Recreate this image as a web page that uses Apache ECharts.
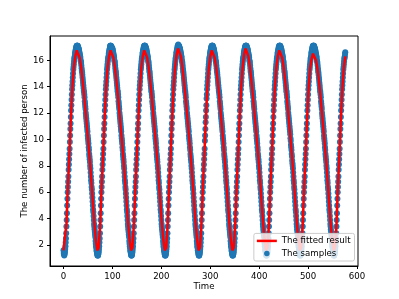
<!DOCTYPE html>
<html>
<head>
<meta charset="utf-8">
<script src="https://cdn.jsdelivr.net/npm/echarts@6/dist/echarts.min.js"></script>
<style>
html,body{margin:0;padding:0;background:#fff;}
#chart{width:399px;height:299px;}
</style>
</head>
<body>
<div id="chart"></div>
<script>
// Sample times start at 0 with a step of 0.5
const sampleStep = 0.5;
const samples = [
1.6,1.4,
// cycle 1
1.3,1.2,1.3,1.4,1.5,1.7,1.9,2.2,2.5,2.9,3.4,3.9,
4.4,5.0,5.5,6.0,6.4,6.8,7.2,7.7,8.1,8.5,8.9,9.3,
9.8,10.3,10.8,11.2,11.7,12.2,12.6,13.0,13.4,13.8,14.1,14.4,
14.7,15.0,15.3,15.5,15.7,15.9,16.1,16.2,16.3,16.5,16.6,16.7,
16.8,16.9,17.0,17.0,17.1,17.1,17.1,17.1,17.1,17.0,17.0,16.9,
16.9,16.8,16.7,16.6,16.5,16.4,16.3,16.2,16.0,15.9,15.8,15.6,
15.4,15.2,15.1,14.9,14.7,14.5,14.3,14.1,13.9,13.7,13.6,13.4,
13.2,12.9,12.7,12.5,12.3,12.0,11.8,11.6,11.4,11.2,11.0,10.8,
10.6,10.3,10.1,9.9,9.7,9.4,9.2,8.9,8.7,8.5,8.3,8.0,
7.8,7.5,7.2,6.9,6.7,6.4,6.2,5.9,5.6,5.3,5.0,4.7,
4.5,4.2,3.9,3.6,3.4,3.2,3.0,2.8,2.6,2.3,2.1,1.9,
1.8,1.6,1.5,1.4,1.3,1.2,
// cycle 2
1.2,1.2,1.3,1.4,1.5,1.7,1.9,2.2,2.5,2.9,3.4,3.9,
4.4,5.0,5.5,6.0,6.4,6.8,7.2,7.7,8.1,8.5,8.9,9.3,
9.8,10.3,10.8,11.2,11.7,12.2,12.6,13.0,13.4,13.8,14.1,14.4,
14.7,15.0,15.3,15.5,15.7,15.9,16.1,16.2,16.3,16.5,16.6,16.7,
16.8,16.9,17.0,17.1,17.1,17.1,17.1,17.0,17.0,17.0,16.9,16.9,
16.9,16.8,16.7,16.6,16.5,16.4,16.3,16.2,16.0,15.9,15.8,15.6,
15.4,15.2,15.1,14.9,14.7,14.5,14.3,14.1,13.9,13.7,13.6,13.4,
13.2,12.9,12.7,12.5,12.3,12.0,11.8,11.6,11.4,11.2,11.0,10.8,
10.6,10.3,10.1,9.9,9.7,9.4,9.2,8.9,8.7,8.5,8.3,8.0,
7.8,7.5,7.2,6.9,6.7,6.4,6.2,5.9,5.6,5.3,5.0,4.7,
4.5,4.2,3.9,3.6,3.4,3.2,3.0,2.8,2.6,2.3,2.1,1.9,
1.8,1.6,1.5,1.4,1.3,1.2,
// cycle 3
1.2,1.2,1.3,1.4,1.5,1.7,1.9,2.2,2.5,2.9,3.4,3.9,
4.4,5.0,5.5,6.0,6.4,6.8,7.2,7.7,8.1,8.5,8.9,9.3,
9.8,10.3,10.8,11.2,11.7,12.2,12.6,13.0,13.4,13.8,14.1,14.4,
14.7,15.0,15.3,15.5,15.7,15.9,16.1,16.2,16.3,16.5,16.6,16.7,
16.8,16.9,17.0,17.0,17.1,17.1,17.1,17.1,17.1,17.0,17.0,16.9,
16.9,16.8,16.7,16.6,16.5,16.4,16.3,16.2,16.0,15.9,15.8,15.6,
15.4,15.2,15.1,14.9,14.7,14.5,14.3,14.1,13.9,13.7,13.6,13.4,
13.2,12.9,12.7,12.5,12.3,12.0,11.8,11.6,11.4,11.2,11.0,10.8,
10.6,10.3,10.1,9.9,9.7,9.4,9.2,8.9,8.7,8.5,8.3,8.0,
7.8,7.5,7.2,6.9,6.7,6.4,6.2,5.9,5.6,5.3,5.0,4.7,
4.5,4.2,3.9,3.6,3.4,3.2,3.0,2.8,2.6,2.3,2.1,1.9,
1.8,1.6,1.5,1.4,1.3,1.2,
// cycle 4
1.2,1.2,1.3,1.4,1.5,1.7,1.9,2.2,2.5,2.9,3.4,3.9,
4.4,5.0,5.5,6.0,6.4,6.8,7.2,7.7,8.1,8.5,8.9,9.3,
9.8,10.3,10.8,11.2,11.7,12.2,12.6,13.0,13.4,13.8,14.1,14.4,
14.7,15.0,15.3,15.5,15.7,15.9,16.1,16.2,16.3,16.5,16.6,16.7,
16.8,16.9,17.0,17.1,17.1,17.2,17.1,17.1,17.1,17.0,17.0,16.9,
16.9,16.8,16.7,16.6,16.5,16.4,16.3,16.2,16.0,15.9,15.8,15.6,
15.4,15.2,15.1,14.9,14.7,14.5,14.3,14.1,13.9,13.7,13.6,13.4,
13.2,12.9,12.7,12.5,12.3,12.0,11.8,11.6,11.4,11.2,11.0,10.8,
10.6,10.3,10.1,9.9,9.7,9.4,9.2,8.9,8.7,8.5,8.3,8.0,
7.8,7.5,7.2,6.9,6.7,6.4,6.2,5.9,5.6,5.3,5.0,4.7,
4.5,4.2,3.9,3.6,3.4,3.2,3.0,2.8,2.6,2.3,2.1,1.9,
1.8,1.6,1.5,1.4,1.3,1.2,
// cycle 5
1.2,1.2,1.3,1.4,1.5,1.7,1.9,2.2,2.5,2.9,3.4,3.9,
4.4,5.0,5.5,6.0,6.4,6.8,7.2,7.7,8.1,8.5,8.9,9.3,
9.9,10.3,10.8,11.3,11.7,12.2,12.6,13.1,13.4,13.8,14.1,14.4,
14.7,15.0,15.3,15.5,15.7,15.9,16.1,16.2,16.3,16.5,16.6,16.7,
16.8,16.9,17.0,17.0,17.1,17.1,17.1,17.1,17.1,17.0,17.0,16.9,
16.9,16.8,16.7,16.6,16.5,16.4,16.3,16.2,16.0,15.9,15.8,15.6,
15.4,15.2,15.1,14.9,14.7,14.5,14.3,14.1,13.9,13.7,13.6,13.4,
13.2,12.9,12.7,12.5,12.3,12.0,11.8,11.6,11.4,11.2,11.0,10.8,
10.6,10.3,10.1,9.9,9.7,9.4,9.2,8.9,8.7,8.5,8.3,8.0,
7.8,7.5,7.2,6.9,6.7,6.4,6.2,5.9,5.6,5.3,5.0,4.7,
4.5,4.2,3.9,3.6,3.4,3.2,3.0,2.8,2.6,2.3,2.1,1.9,
1.8,1.6,1.5,1.4,1.3,1.2,
// cycle 6
1.2,1.2,1.3,1.4,1.5,1.7,1.9,2.2,2.5,2.9,3.4,3.9,
4.4,5.0,5.5,6.0,6.4,6.8,7.2,7.7,8.1,8.5,8.9,9.3,
9.8,10.3,10.8,11.2,11.7,12.2,12.6,13.0,13.4,13.8,14.1,14.4,
14.7,15.0,15.3,15.5,15.7,15.9,16.1,16.2,16.3,16.5,16.6,16.7,
16.8,16.9,17.0,17.0,17.1,17.1,17.1,17.1,17.1,17.0,17.0,16.9,
16.9,16.8,16.7,16.6,16.5,16.4,16.3,16.2,16.0,15.9,15.8,15.6,
15.4,15.2,15.1,14.9,14.7,14.5,14.3,14.1,13.9,13.7,13.6,13.4,
13.2,12.9,12.7,12.5,12.3,12.0,11.8,11.6,11.4,11.2,11.0,10.8,
10.6,10.3,10.1,9.9,9.7,9.4,9.2,8.9,8.7,8.5,8.3,8.0,
7.8,7.5,7.2,6.9,6.7,6.4,6.2,5.9,5.6,5.3,5.0,4.7,
4.5,4.2,3.9,3.6,3.4,3.2,3.0,2.8,2.6,2.3,2.1,1.9,
1.8,1.6,1.5,1.4,1.3,1.2,
// cycle 7
1.2,1.2,1.3,1.4,1.5,1.7,1.9,2.2,2.5,2.9,3.4,3.9,
4.4,5.0,5.5,6.0,6.4,6.8,7.2,7.7,8.1,8.5,8.9,9.3,
9.8,10.3,10.8,11.2,11.7,12.2,12.6,13.0,13.4,13.8,14.1,14.4,
14.7,15.0,15.3,15.5,15.7,15.9,16.1,16.2,16.3,16.5,16.6,16.7,
16.8,16.9,17.0,17.0,17.1,17.1,17.1,17.1,17.1,17.0,17.0,16.9,
16.9,16.8,16.7,16.6,16.5,16.4,16.3,16.2,16.0,15.9,15.8,15.6,
15.4,15.2,15.1,14.9,14.7,14.5,14.3,14.1,13.9,13.7,13.6,13.4,
13.2,12.9,12.7,12.5,12.3,12.0,11.8,11.6,11.4,11.2,11.0,10.8,
10.6,10.4,10.1,9.9,9.6,9.4,9.2,8.9,8.7,8.4,8.2,8.0,
7.8,7.5,7.2,6.9,6.7,6.4,6.2,5.9,5.6,5.3,5.0,4.7,
4.5,4.2,3.9,3.6,3.4,3.2,3.0,2.8,2.6,2.3,2.1,1.9,
1.8,1.6,1.5,1.4,1.3,1.2,
// cycle 8
1.2,1.2,1.3,1.4,1.5,1.7,1.9,2.2,2.5,2.9,3.4,3.9,
4.4,5.0,5.5,6.0,6.4,6.8,7.2,7.7,8.1,8.5,8.9,9.3,
9.8,10.3,10.8,11.2,11.7,12.2,12.6,13.0,13.4,13.8,14.1,14.4,
14.7,15.0,15.3,15.5,15.7,15.9,16.1,16.2,16.3,16.5,16.6,16.7,
16.8,16.9,17.0,17.0,17.1,17.1,17.1,17.1,17.1,17.0,17.0,16.9,
16.9,16.8,16.7,16.6,16.5,16.4,16.3,16.2,16.0,15.9,15.8,15.6,
15.4,15.2,15.1,14.9,14.7,14.5,14.3,14.1,13.9,13.7,13.6,13.4,
13.2,12.9,12.7,12.5,12.3,12.0,11.8,11.6,11.4,11.2,11.0,10.8,
10.6,10.3,10.1,9.9,9.7,9.4,9.2,8.9,8.7,8.5,8.3,8.0,
7.8,7.5,7.2,6.9,6.7,6.4,6.2,5.9,5.6,5.3,5.0,4.7,
4.5,4.2,3.9,3.6,3.4,3.2,3.0,2.8,2.6,2.3,2.1,1.9,
1.8,1.6,1.5,1.4,1.3,1.2,
// final rise
1.2,1.2,1.3,1.4,1.5,1.7,1.9,2.2,2.5,2.9,3.4,3.9,
4.4,5.0,5.5,6.0,6.4,6.8,7.2,7.7,8.1,8.5,8.9,9.3,
9.8,10.3,10.8,11.2,11.7,12.2,12.6,13.0,13.4,13.8,14.1,14.4,
14.7,15.0,15.3,15.5,15.7,15.9,16.1,16.2,16.3,16.5,16.6
];

// Fitted curve: times start at 0 with a step of 3
const fitStep = 3;
const fitted = [
1.6,
1.5,3.6,6.5,8.9,11.6,13.9,15.45,16.3,16.75,16.7,16.2,15.5,14.5,13.4,12.15,10.9,9.65,8.3,6.8,5.2,3.65,2.4,1.6,
1.8,3.6,6.5,8.9,11.6,13.9,15.45,16.3,16.75,16.7,16.2,15.5,14.5,13.4,12.15,10.9,9.65,8.3,6.8,5.2,3.65,2.4,1.6,
1.8,3.6,6.5,8.9,11.6,13.9,15.45,16.3,16.75,16.7,16.2,15.5,14.5,13.4,12.15,10.9,9.65,8.3,6.8,5.2,3.65,2.4,1.6,
1.8,3.6,6.5,8.9,11.6,13.9,15.45,16.4,16.9,16.85,16.3,15.5,14.5,13.4,12.15,10.9,9.65,8.3,6.8,5.2,3.65,2.4,1.6,
1.8,3.6,6.5,8.9,11.6,13.9,15.45,16.3,16.75,16.7,16.2,15.5,14.5,13.4,12.15,10.9,9.65,8.3,6.8,5.2,3.65,2.4,1.6,
1.8,3.6,6.5,8.9,11.6,13.9,15.45,16.4,16.9,16.85,16.3,15.5,14.5,13.4,12.15,10.9,9.65,8.3,6.8,5.2,3.65,2.4,1.6,
1.8,3.6,6.5,8.9,11.6,13.9,15.45,16.3,16.75,16.7,16.2,15.5,14.5,13.4,12.15,10.9,9.65,8.3,6.8,5.2,3.65,2.4,1.6,
1.8,3.6,6.5,8.9,11.6,13.9,15.4,16.1,16.5,16.45,16.0,15.4,14.5,13.4,12.15,10.9,9.65,8.3,6.8,5.2,3.65,2.4,1.6,
1.8,3.6,6.5,8.9,11.6,13.9,15.45,16.3
];

const xTicks = [0, 100, 200, 300, 400, 500, 600];
const yTicks = [2, 4, 6, 8, 10, 12, 14, 16];
const seriesNames = ['The fitted result', 'The samples'];
const xName = 'Time';
const yName = 'The number of infected person';

const sampleData = samples.map((v, i) => [i * sampleStep, v]);
const fitData = fitted.map((v, i) => [i * fitStep, v]);

const FONT = 'DejaVu Sans';
const FS = 8.6;

const chart = echarts.init(document.getElementById('chart'), null, {renderer: 'canvas'});
chart.setOption({
  animation: false,
  backgroundColor: '#ffffff',
  grid: {
    left: 50, top: 36, right: 41, bottom: 33,
    show: true, borderColor: '#000', borderWidth: 1, backgroundColor: 'transparent'
  },
  legend: {
    orient: 'vertical',
    right: 44.5, bottom: 38,
    data: [
      {name: seriesNames[0], icon: 'path://M0,0L20,0L20,2.5L0,2.5Z'},
      {name: seriesNames[1], icon: 'circle'}
    ],
    itemWidth: 20, itemHeight: 5.5, itemGap: 3.6,
    padding: [3, 4, 3, 3],
    borderColor: '#cccccc', borderWidth: 1, borderRadius: 2,
    backgroundColor: 'rgba(255,255,255,0.8)',
    textStyle: {fontFamily: FONT, fontSize: FS, color: '#000'},
    selectedMode: false
  },
  xAxis: {
    type: 'value', min: -27.6, max: 602,
    name: xName, nameLocation: 'middle', nameGap: 16.5, nameMoveOverlap: false,
    nameTextStyle: {fontFamily: FONT, fontSize: FS, color: '#000'},
    axisLine: {show: true, onZero: false, lineStyle: {color: '#000', width: 1}},
    axisTick: {show: true, customValues: xTicks, length: 3, lineStyle: {color: '#000', width: 1}},
    axisLabel: {show: true, customValues: xTicks, margin: 6, fontFamily: FONT, fontSize: FS, color: '#000'},
    splitLine: {show: false}
  },
  yAxis: {
    type: 'value', min: 0.41, max: 17.84,
    name: yName, nameLocation: 'middle', nameGap: 21, nameRotate: 90, nameMoveOverlap: false,
    nameTextStyle: {fontFamily: FONT, fontSize: FS, color: '#000'},
    axisLine: {show: true, onZero: false, lineStyle: {color: '#000', width: 1}},
    axisTick: {show: true, customValues: yTicks, length: 3, lineStyle: {color: '#000', width: 1}},
    axisLabel: {show: true, customValues: yTicks, margin: 6, fontFamily: FONT, fontSize: FS, color: '#000'},
    splitLine: {show: false}
  },
  series: [
    {
      name: seriesNames[1], type: 'scatter', data: sampleData,
      symbol: 'circle', symbolSize: 6,
      itemStyle: {color: '#1f77b4', opacity: 1},
      z: 2, large: false
    },
    {
      name: seriesNames[0], type: 'line', data: fitData,
      symbol: 'none', showSymbol: false,
      lineStyle: {color: '#ff0000', width: 2.5},
      itemStyle: {color: '#ff0000'},
      z: 3
    }
  ]
});
</script>
</body>
</html>
